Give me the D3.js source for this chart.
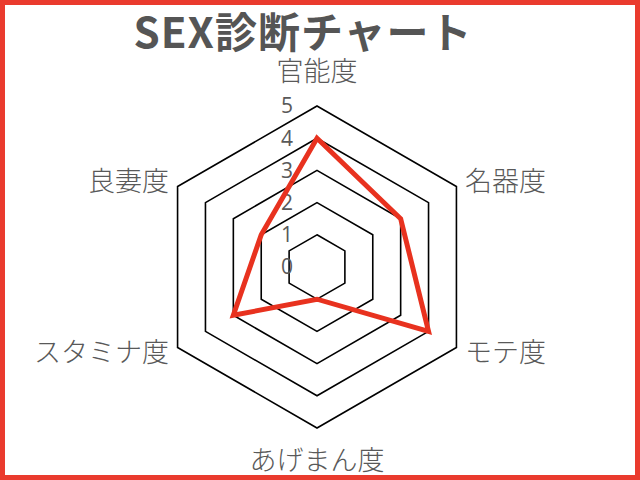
<!DOCTYPE html>
<html>
<head>
<meta charset="utf-8">
<script src="https://cdn.jsdelivr.net/npm/d3@7"></script>
<style>
  html, body { margin: 0; padding: 0; background: #fff; }
  svg { display: block; }
</style>
</head>
<body>
<div class="radar_chart"></div>
<script>
// chart data
var categories = ["官能度", "名器度", "モテ度", "あげまん度", "スタミナ度", "良妻度"];
var values = [4, 3, 4, 1, 3, 2];
var tickValues = [0, 1, 2, 3, 4, 5];
var title = "SEX診断チャート";

var width = 640, height = 480;
var cx = 317, cy = 267, radius = 161;

var svg = d3.select(".radar_chart").append("svg")
    .attr("width", width)
    .attr("height", height);

// red frame round the whole picture
svg.append("rect")
    .attr("x", 2.5).attr("y", 2.5)
    .attr("width", width - 5).attr("height", height - 5)
    .attr("fill", "none")
    .attr("stroke", "#ea3b2e")
    .attr("stroke-width", 5);

// title
svg.append("text")
    .attr("x", 303)
    .attr("y", 48)
    .attr("text-anchor", "middle")
    .style("font-family", "'Noto Sans CJK JP', sans-serif")
    .style("font-weight", "bold")
    .style("font-size", "42px")
    .style("letter-spacing", "1px")
    .style("fill", "#555555")
    .text(title);

var r = d3.scaleLinear().domain([0, 5]).range([0, radius]);
var angle = d3.scalePoint()
    .domain(d3.range(categories.length + 1))
    .range([0, 2 * Math.PI]);

var g = svg.append("g")
    .attr("transform", "translate(" + cx + "," + cy + ")");

var radial = d3.lineRadial()
    .angle(function (d, i) { return angle(i); })
    .curve(d3.curveLinearClosed);

// hexagon grid, one per tick (0 collapses to a point)
g.selectAll("path.grid")
    .data(tickValues.filter(function (t) { return t > 0; }))
    .enter().append("path")
    .attr("class", "grid")
    .attr("d", function (t) {
        return radial.radius(function () { return r(t); })(categories);
    })
    .attr("fill", "none")
    .attr("stroke", "#000")
    .attr("stroke-width", 1.6);

// tick labels along the top axis
g.selectAll("text.tick")
    .data(tickValues)
    .enter().append("text")
    .attr("class", "tick")
    .attr("x", -24)
    .attr("y", function (t) { return -r(t); })
    .attr("dy", "0.35em")
    .attr("text-anchor", "end")
    .style("font-family", "'Open Sans', sans-serif")
    .style("font-size", "21px")
    .style("fill", "#595959")
    .text(function (t) { return t; });

// data line
g.append("path")
    .datum(values)
    .attr("d", radial.radius(function (d) { return r(d); }))
    .attr("fill", "none")
    .attr("stroke", "#e8321f")
    .attr("stroke-width", 5)
    .attr("stroke-linejoin", "miter");

// category labels
g.selectAll("text.cat")
    .data(categories)
    .enter().append("text")
    .attr("class", "cat")
    .each(function (d, i) {
        var a = angle(i);
        var s = Math.sin(a), c = Math.cos(a);
        var side = Math.abs(s) > 0.01;
        var pad = side ? 10 : (c > 0 ? 35 : 32);
        d3.select(this)
            .attr("x", s * (radius + pad))
            .attr("y", -c * (radius + pad))
            .attr("text-anchor", !side ? "middle" : (s > 0 ? "start" : "end"));
    })
    .attr("dy", "0.36em")
    .style("font-family", "'Noto Sans CJK JP', sans-serif")
    .style("font-weight", "300")
    .style("font-size", "27px")
    .style("fill", "#595959")
    .text(function (d) { return d; });
</script>
</body>
</html>
